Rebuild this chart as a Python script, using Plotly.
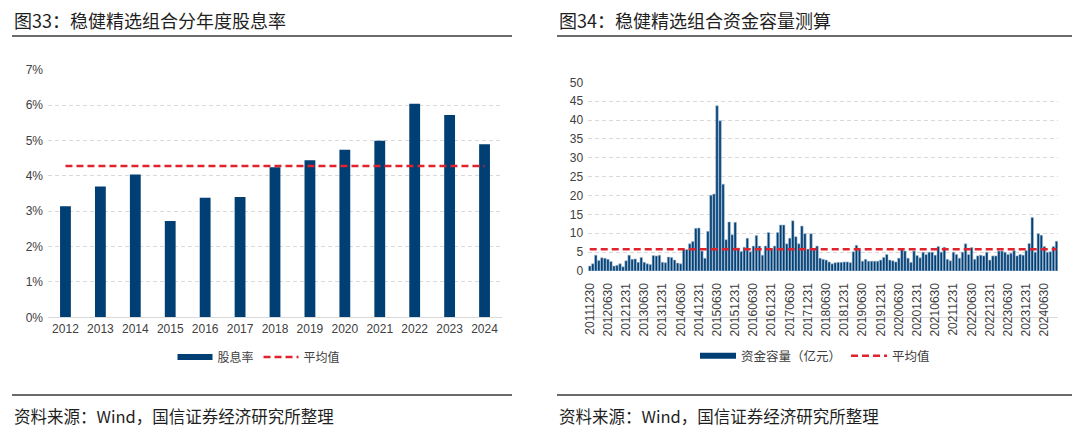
import pandas as pd
import plotly.graph_objects as go

# ---------------- data ----------------
years = ["2012", "2013", "2014", "2015", "2016", "2017", "2018",
         "2019", "2020", "2021", "2022", "2023", "2024"]
dividend_yield = [3.14, 3.70, 4.04, 2.72, 3.38, 3.40, 4.24,
                  4.44, 4.74, 4.99, 6.04, 5.72, 4.89]
yield_avg = 4.28

capacity = [1.3, 1.9, 4.2, 2.8, 3.5, 3.4, 3.1, 2.5, 1.3, 1.5,
            1.9, 1.1, 2.7, 4.2, 3.1, 3.2, 2.3, 3.6, 2.3, 1.9,
            1.7, 4.1, 4.0, 4.2, 2.3, 2.2, 3.7, 3.6, 2.9, 2.1,
            1.9, 5.7, 5.7, 7.2, 7.8, 11.3, 11.4, 5.3, 3.4, 10.5,
            20.1, 20.4, 43.8, 39.8, 23.0, 8.3, 13.0, 9.6, 12.9, 6.1,
            5.2, 6.3, 8.7, 5.1, 6.6, 9.4, 6.6, 4.2, 6.6, 10.2,
            5.8, 6.6, 10.2, 12.2, 12.2, 7.2, 8.7, 13.3, 9.1, 7.2,
            11.9, 9.9, 5.8, 9.9, 5.6, 6.6, 3.4, 3.1, 2.9, 2.4,
            1.9, 2.2, 2.3, 2.3, 2.4, 2.4, 2.2, 5.1, 6.8, 5.6,
            2.6, 3.1, 2.6, 2.6, 2.6, 2.6, 2.9, 3.6, 4.4, 2.9,
            2.7, 2.4, 3.4, 5.8, 5.3, 3.4, 2.3, 5.3, 4.1, 3.5,
            5.0, 4.4, 5.0, 5.0, 4.2, 6.5, 5.0, 6.3, 3.1, 2.7,
            5.0, 4.4, 3.4, 5.0, 7.2, 4.4, 6.2, 3.1, 4.0, 4.2,
            4.0, 5.0, 2.9, 4.0, 4.0, 5.3, 5.3, 5.0, 4.4, 4.7,
            5.4, 4.0, 4.4, 4.2, 5.4, 7.3, 14.2, 5.0, 9.9, 9.5,
            6.5, 5.0, 5.1, 6.5, 7.9]
capacity_avg = 5.75

# month-end date categories (first trading day label 20111230)
dates = list(pd.date_range("2011-12-31", periods=len(capacity), freq="ME").strftime("%Y%m%d"))
dates[0] = "20111230"
date_ticks = dates[::6]

y1_ticks = [0, 1, 2, 3, 4, 5, 6, 7]
y2_ticks = [0, 5, 10, 15, 20, 25, 30, 35, 40, 45, 50]

# ---------------- style ----------------
NAVY = "#003f73"
RED = "#e0232c"
GRID = "#d9d9d9"
TXT = "#404040"
OFF = 8                      # page body margin of the html page
W, H = 1080 - OFF, 435 - OFF
LAT = "Liberation Sans, Arial, sans-serif"
CJK = "Noto Sans CJK SC, sans-serif"


def px(x):
    return (x - OFF) / W


def py(y):
    return 1 - (y - OFF) / H


fig = go.Figure()

# left chart
fig.add_trace(go.Bar(x=years, y=dividend_yield, marker=dict(color=NAVY, line=dict(width=0)),
                     xaxis="x", yaxis="y", showlegend=False, name="股息率",
                     hovertemplate="%{x}: %{y:.2f}%<extra></extra>"))
fig.add_trace(go.Scatter(x=[None], y=[None], mode="lines", name="股息率",
                         line=dict(color=NAVY, width=6), xaxis="x", yaxis="y", legend="legend"))
fig.add_trace(go.Scatter(x=years, y=[yield_avg] * len(years), mode="lines", name="平均值",
                         line=dict(color=RED, width=2.5, dash="7px,4px"),
                         xaxis="x", yaxis="y", legend="legend"))

# right chart
fig.add_trace(go.Bar(x=dates, y=capacity, width=0.82,
                     marker=dict(color=NAVY, line=dict(width=0.6, color="#a9c0d6")),
                     xaxis="x2", yaxis="y2", showlegend=False, name="资金容量（亿元）"))
fig.add_trace(go.Scatter(x=[None], y=[None], mode="lines", name="资金容量（亿元）",
                         line=dict(color=NAVY, width=6), xaxis="x2", yaxis="y2", legend="legend2"))
fig.add_trace(go.Scatter(x=dates, y=[capacity_avg] * len(dates), mode="lines", name="平均值",
                         line=dict(color=RED, width=2.5, dash="7px,4px"),
                         xaxis="x2", yaxis="y2", legend="legend2"))

axis_font = dict(family=LAT, size=12, color=TXT)

fig.update_layout(
    width=W, height=H,
    margin=dict(l=0, r=0, t=0, b=0, autoexpand=False),
    paper_bgcolor="white", plot_bgcolor="white",
    bargap=0.69,
    xaxis=dict(domain=[px(48), px(502)], type="category", tickfont=axis_font,
               showline=True, linecolor=GRID, linewidth=1, ticks="", showgrid=False,
               automargin=False),
    yaxis=dict(domain=[py(317.3), py(69.7)], range=[0, 7], tickvals=y1_ticks,
               ticktext=[f"{v}%" for v in y1_ticks], tickfont=axis_font,
               showgrid=True, gridcolor=GRID, griddash="4px,3px", gridwidth=1,
               zeroline=False, ticks="", ticklabelstandoff=4, automargin=False),
    xaxis2=dict(domain=[px(588.2), px(1058)], type="category", tickfont=axis_font,
                tickvals=date_ticks, ticktext=date_ticks, tickangle=-90,
                showline=True, linecolor=GRID, linewidth=1, ticks="", showgrid=False,
                range=[-0.5, len(dates) - 0.5], automargin=False,
                ticklabelstandoff=-40),
    yaxis2=dict(domain=[py(271), py(82.3)], range=[0, 50], tickvals=y2_ticks,
                tickfont=axis_font, showgrid=True, gridcolor=GRID, griddash="4px,3px",
                gridwidth=1, zeroline=False, ticks="", anchor="x2", ticklabelstandoff=4,
                automargin=False),
    legend=dict(orientation="h", x=px(259), xanchor="center", y=py(357), yanchor="middle",
                font=dict(family=CJK, size=12, color=TXT), itemwidth=35,
                bgcolor="rgba(0,0,0,0)"),
    legend2=dict(orientation="h", x=px(815), xanchor="center", y=py(356), yanchor="middle",
                 font=dict(family=CJK, size=12.5, color=TXT), itemwidth=36,
                 bgcolor="rgba(0,0,0,0)"),
    font=dict(family=CJK, color=TXT),
)

# titles, rules and source notes
for x0, x1, title in [(12, 512, "图33：稳健精选组合分年度股息率"),
                      (557, 1075, "图34：稳健精选组合资金容量测算")]:
    fig.add_annotation(x=px(x0), y=py(20), xref="paper", yref="paper", xanchor="left",
                       yanchor="middle", text=title, showarrow=False,
                       font=dict(family=CJK, size=18, color="#1f1f1f"))
    fig.add_annotation(x=px(x0), y=py(416), xref="paper", yref="paper", xanchor="left",
                       yanchor="middle", text="资料来源：Wind，国信证券经济研究所整理",
                       showarrow=False, font=dict(family=CJK, size=16.5, color="#1f1f1f"))
    for yy in (36, 395):
        fig.add_shape(type="line", xref="paper", yref="paper", x0=px(x0), x1=px(x1),
                      y0=py(yy), y1=py(yy), line=dict(color="#3a3a3a", width=1.5))

fig.write_html("out.html")
